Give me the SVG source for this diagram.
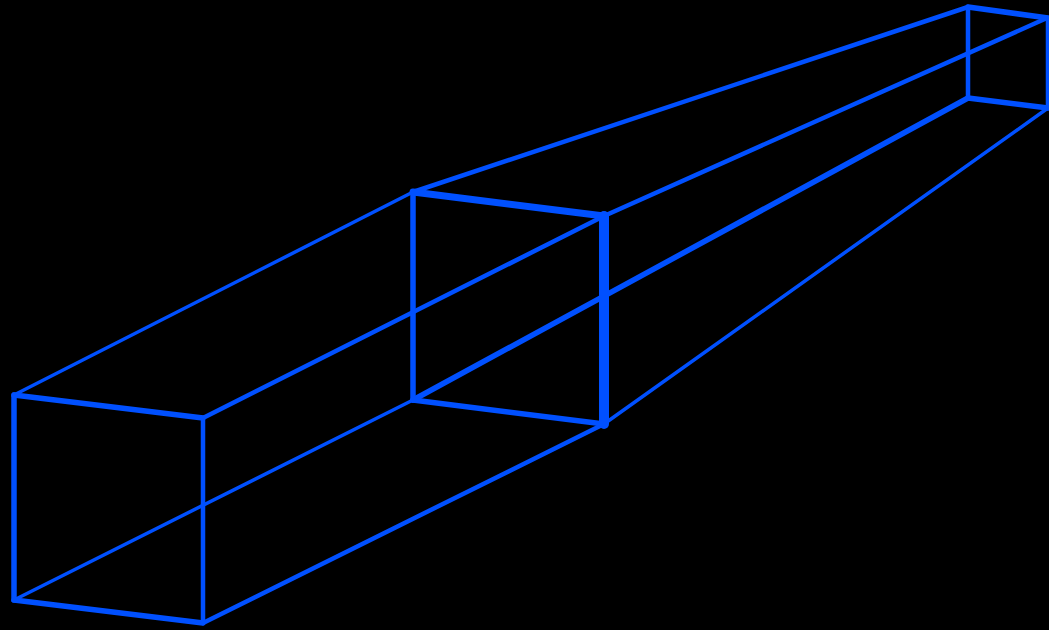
<svg xmlns="http://www.w3.org/2000/svg" width="1049" height="630" viewBox="0 0 1049 630">
<style>
line{stroke:#0050ff;stroke-linecap:round;fill:none}
.a{stroke-width:3.5}
.b{stroke-width:4.5}
.c{stroke-width:5.5}
.d{stroke-width:7}
.e{stroke-width:10}
</style>
<rect width="1049" height="630" fill="#000"/>
<g id="connectors">
<line class="a" x1="14" y1="395" x2="413" y2="192"/>
<line class="b" x1="203" y1="418" x2="604" y2="216"/>
<line class="a" x1="14" y1="600" x2="413" y2="400"/>
<line class="b" x1="203" y1="623" x2="604" y2="424"/>
<line class="b" x1="413" y1="192" x2="968" y2="7"/>
<line class="b" x1="604" y1="216" x2="1047" y2="18"/>
<line class="c" x1="413" y1="400" x2="968" y2="98"/>
<line class="a" x1="604" y1="424" x2="1048" y2="108"/>
</g>
<g id="front">
<line class="c" x1="14" y1="395" x2="14" y2="600"/>
<line class="b" x1="203" y1="418" x2="203" y2="623"/>
<line class="c" x1="14" y1="395" x2="203" y2="418"/>
<line class="c" x1="14" y1="600" x2="203" y2="623"/>
</g>
<g id="middle">
<line class="c" x1="413" y1="192" x2="413" y2="400"/>
<line class="e" x1="604" y1="216" x2="604" y2="424"/>
<line class="d" x1="413" y1="192" x2="604" y2="216"/>
<line class="c" x1="413" y1="400" x2="604" y2="424"/>
</g>
<g id="far">
<line class="b" x1="968" y1="7" x2="968" y2="98"/>
<line class="b" x1="1048" y1="18" x2="1048" y2="108"/>
<line class="c" x1="968" y1="7" x2="1048" y2="18"/>
<line class="c" x1="968" y1="98" x2="1048" y2="108"/>
</g>
</svg>
